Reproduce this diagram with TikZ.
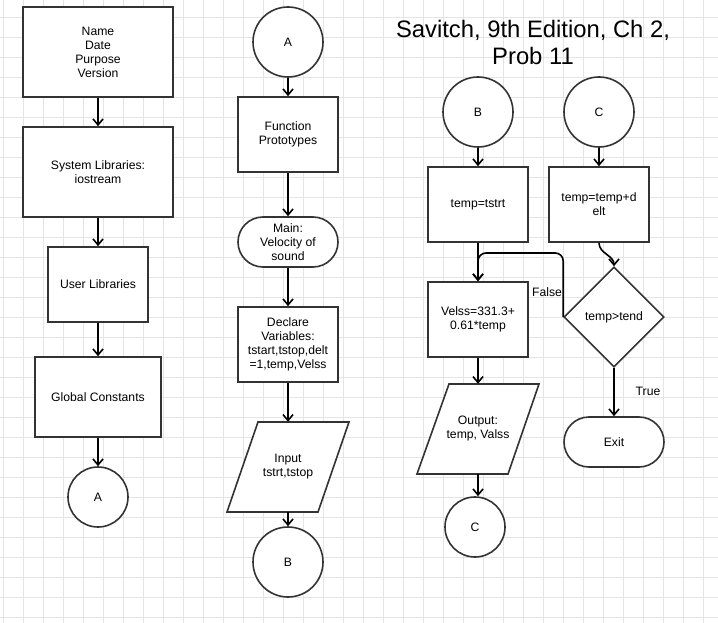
\documentclass[tikz,border=0pt]{standalone}
\usepackage{fontspec}
\setmainfont{Liberation Sans}
\usetikzlibrary{shapes.geometric,arrows.meta,positioning}
\definecolor{gridgray}{RGB}{228,228,238}
\definecolor{edgegray}{RGB}{51,51,51}

\begin{document}
\begin{tikzpicture}[x=1pt, y=-1pt,
    every node/.style={font=\fontsize{12.2}{14}\selectfont, align=center},
    shapeline/.style={draw=edgegray, line width=1.6pt, fill=white},
    box/.style={rectangle, shapeline, minimum width=100pt, minimum height=75pt},
    conn/.style={circle, shapeline, minimum size=70pt, inner sep=0pt},
    term/.style={rectangle, rounded corners=25pt, shapeline, minimum width=100pt, minimum height=50pt},
    io/.style={rectangle, minimum width=90pt, minimum height=90pt, inner sep=0pt},
    decision/.style={diamond, shapeline, minimum width=100pt, minimum height=100pt, inner sep=0pt},
    arr/.style={-{Straight Barb[length=6pt,width=10pt]}, line width=1.6pt, black}]

    % Background and grid
    \useasboundingbox (0,0) rectangle (718,623);
    \fill[white] (0,0) rectangle (718,623);
    \foreach \gx in {3,23,...,703} { \draw[gridgray, line width=0.6pt] (\gx,0) -- (\gx,623); }
    \foreach \gy in {17,37,...,617} { \draw[gridgray, line width=0.6pt] (0,\gy) -- (718,\gy); }

    % Column 1
    \node[box, minimum width=150pt, minimum height=90pt] (head) at (98,52) {Name\\Date\\Purpose\\Version};
    \node[box, minimum width=150pt, minimum height=90pt] (syslib) at (98,172) {System Libraries:\\iostream};
    \node[box] (usrlib) at (98,284.5) {User Libraries};
    \node[box, minimum width=126pt, minimum height=80pt] (glob) at (98,397) {Global Constants};
    \node[conn, minimum size=60pt] (a1) at (98,497) {A};

    % Column 2
    \node[conn] (a2) at (288,42) {A};
    \node[box] (proto) at (288,134.5) {Function\\Prototypes};
    \node[term] (main) at (288,242) {Main:\\Velocity of\\sound};
    \node[box] (decl) at (288,344.5) {Declare\\Variables:\\tstart,tstop,delt\\=1,temp,Velss};
    \draw[shapeline] (258,422) -- (349,422) -- (318,512) -- (227,512) -- cycle;
    \node[io] (inp) at (288,467) {Input\\tstrt,tstop};
    \node[conn] (b1) at (288,562) {B};

    % Column 3
    \node[font=\fontsize{23.8}{27}\selectfont] (title) at (533,42) {Savitch, 9th Edition, Ch 2,\\Prob 11};
    \node[conn] (b2) at (478,112) {B};
    \node[conn] (c1) at (599,112) {C};
    \node[box] (init) at (478,204.5) {temp=tstrt};
    \node[box] (incr) at (599,204.5) {temp=temp+d\\elt};
    \node[box] (velss) at (478,319.5) {Velss=331.3+\\0.61*temp};
    \node[decision] (test) at (614,317) {temp>tend};
    \draw[shapeline] (449,384) -- (539,384) -- (508,474) -- (417,474) -- cycle;
    \node[io] (outp) at (478,429) {Output:\\temp, Valss};
    \node[conn, minimum size=60pt] (c2) at (475,527) {C};
    \node[term] (exit) at (614,442) {Exit};

    % Connections
    \draw[arr] (head) -- (syslib);
    \draw[arr] (syslib) -- (usrlib);
    \draw[arr] (usrlib) -- (glob);
    \draw[arr] (glob) -- (a1);
    \draw[arr] (a2) -- (proto);
    \draw[arr] (proto) -- (main);
    \draw[arr] (main) -- (decl);
    \draw[arr] (decl) -- (inp);
    \draw[arr] (inp) -- (b1);
    \draw[arr] (b2) -- (init);
    \draw[arr] (c1) -- (incr);
    \draw[arr] (init) -- (velss);
    \draw[arr] (velss) -- (outp);
    \draw[arr] (outp.south) -- (outp.south |- c2.north);
    \draw[arr] (incr.south) to[out=-90, in=90] (test.north);
    \draw[arr, rounded corners=8pt] (test.west) -- ++(0,-64) -| (velss.north);
    \draw[arr] (test) -- (exit);

    % Branch labels
    \node (lblfalse) at (547,292) {False};
    \node (lbltrue) at (648,391) {True};
\end{tikzpicture}
\end{document}
